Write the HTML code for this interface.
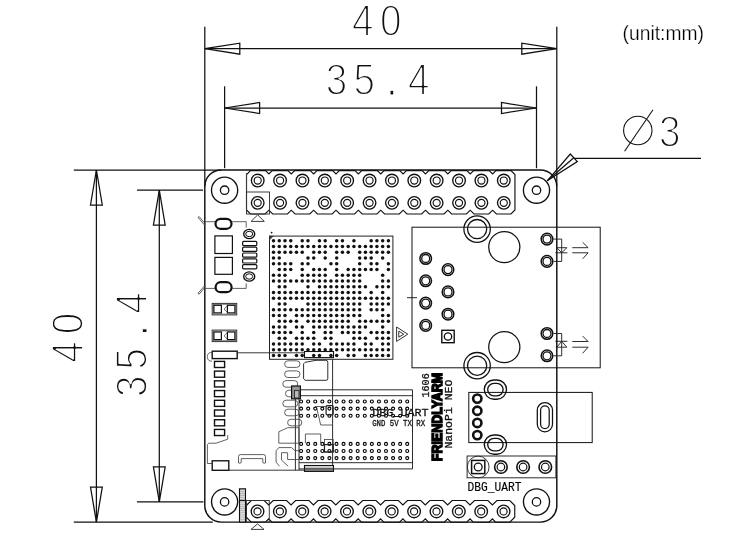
<!DOCTYPE html>
<html><head><meta charset="utf-8"><title>NanoPi NEO dimensions</title>
<style>
html,body{margin:0;padding:0;background:#fff;}
svg{display:block;filter:grayscale(1);}
text{font-family:"Liberation Sans",sans-serif;fill:#111;}
.dim{stroke:#fff;stroke-width:1.8px;stroke-linejoin:round;}
.dimdot{stroke:#fff;stroke-width:1.0px;}
.unit{fill:#000;stroke:#fff;stroke-width:0.25px;}
.mono{font-family:"Liberation Mono",monospace;fill:#111;stroke:#111;stroke-width:0.3px;}
.mono2{font-family:"Liberation Mono",monospace;fill:#000;stroke:#000;stroke-width:0.15px;}
.brand{font-weight:bold;fill:#000;stroke:#000;stroke-width:1.5px;}
</style></head><body>
<svg width="740" height="560" viewBox="0 0 740 560">
<rect x="0" y="0" width="740" height="560" fill="#fff"/>
<path d="M204.8,505.6 L204.8,186.5 A16.5,16.5 0 0 1 221.3,170.0 L540.3,170.0 A16.5,16.5 0 0 1 556.8,186.5 L556.8,505.6 A16.5,16.5 0 0 1 540.3,522.1 L221.3,522.1 A16.5,16.5 0 0 1 204.8,505.6" stroke="#111" stroke-width="1.45" fill="none" />
<circle cx="224.60" cy="190.20" r="13.10" stroke="#111" stroke-width="1.35" fill="none"/>
<circle cx="224.60" cy="190.20" r="4.20" stroke="#111" stroke-width="1.3" fill="none"/>
<circle cx="224.60" cy="501.90" r="13.10" stroke="#111" stroke-width="1.35" fill="none"/>
<circle cx="224.60" cy="501.90" r="4.20" stroke="#111" stroke-width="1.3" fill="none"/>
<circle cx="536.50" cy="190.20" r="13.10" stroke="#111" stroke-width="1.35" fill="none"/>
<circle cx="536.50" cy="190.20" r="4.20" stroke="#111" stroke-width="1.3" fill="none"/>
<circle cx="536.50" cy="501.90" r="13.10" stroke="#111" stroke-width="1.35" fill="none"/>
<circle cx="536.50" cy="501.90" r="4.20" stroke="#111" stroke-width="1.3" fill="none"/>
<line x1="204.80" y1="26.80" x2="204.80" y2="186.50" stroke="#111" stroke-width="1.25" />
<line x1="556.80" y1="26.80" x2="556.80" y2="186.50" stroke="#111" stroke-width="1.25" />
<line x1="204.80" y1="48.70" x2="556.80" y2="48.70" stroke="#111" stroke-width="1.25" />
<path d="M204.80,48.70 L239.80,43.20 L239.80,54.20 Z" stroke="#111" stroke-width="1.25" fill="none" stroke-linejoin="miter"/>
<path d="M556.80,48.70 L521.80,43.20 L521.80,54.20 Z" stroke="#111" stroke-width="1.25" fill="none" stroke-linejoin="miter"/>
<line x1="224.60" y1="86.30" x2="224.60" y2="168.20" stroke="#111" stroke-width="1.25" />
<line x1="536.50" y1="86.30" x2="536.50" y2="168.20" stroke="#111" stroke-width="1.25" />
<line x1="224.60" y1="108.00" x2="536.50" y2="108.00" stroke="#111" stroke-width="1.25" />
<path d="M224.60,108.00 L259.60,102.50 L259.60,113.50 Z" stroke="#111" stroke-width="1.25" fill="none" stroke-linejoin="miter"/>
<path d="M536.50,108.00 L501.50,102.50 L501.50,113.50 Z" stroke="#111" stroke-width="1.25" fill="none" stroke-linejoin="miter"/>
<line x1="73.80" y1="170.00" x2="221.30" y2="170.00" stroke="#111" stroke-width="1.25" />
<line x1="73.80" y1="522.10" x2="212.80" y2="522.10" stroke="#111" stroke-width="1.25" />
<line x1="96.40" y1="170.00" x2="96.40" y2="522.10" stroke="#111" stroke-width="1.25" />
<path d="M96.40,170.00 L90.50,205.00 L102.30,205.00 Z" stroke="#111" stroke-width="1.25" fill="none" stroke-linejoin="miter"/>
<path d="M96.40,522.10 L90.50,487.10 L102.30,487.10 Z" stroke="#111" stroke-width="1.25" fill="none" stroke-linejoin="miter"/>
<line x1="137.00" y1="190.20" x2="203.00" y2="190.20" stroke="#111" stroke-width="1.25" />
<line x1="137.00" y1="501.90" x2="203.50" y2="501.90" stroke="#111" stroke-width="1.25" />
<line x1="159.30" y1="190.20" x2="159.30" y2="501.90" stroke="#111" stroke-width="1.25" />
<path d="M159.30,190.20 L153.40,225.20 L165.20,225.20 Z" stroke="#111" stroke-width="1.25" fill="none" stroke-linejoin="miter"/>
<path d="M159.30,501.90 L153.40,466.90 L165.20,466.90 Z" stroke="#111" stroke-width="1.25" fill="none" stroke-linejoin="miter"/>
<path d="M547.20,180.80 L570.30,154.00 L577.30,161.60 Z" stroke="#111" stroke-width="1.25" fill="none" stroke-linejoin="miter"/>
<line x1="547.20" y1="180.80" x2="573.80" y2="157.80" stroke="#111" stroke-width="1.25" />
<line x1="573.80" y1="158.40" x2="701.00" y2="158.40" stroke="#111" stroke-width="1.25" />
<circle cx="637.80" cy="130.50" r="14.20" stroke="#111" stroke-width="1.1" fill="none"/>
<line x1="624.60" y1="151.30" x2="653.00" y2="109.70" stroke="#111" stroke-width="1.1" />
<text transform="translate(352.0,36.0) scale(0.86,1)" x="0.00 32.67" y="0" font-size="45.0" class="dim">40</text>
<text transform="translate(325.8,95.4) scale(0.86,1)" x="0.00 32.21 70.70 95.58" y="0" font-size="45.0" class="dim">35<tspan class="dimdot">.</tspan>4</text>
<text transform="translate(83.4,362.8) rotate(-90) scale(0.86,1)" x="0.00 33.26" y="0" font-size="45.0" class="dim">40</text>
<text transform="translate(146.6,397.0) rotate(-90) scale(0.86,1)" x="0.00 31.98 70.93 96.74" y="0" font-size="45.0" class="dim">35<tspan class="dimdot">.</tspan>4</text>
<text transform="translate(659.0999999999999,146.5) scale(0.86,1)" x="0.00" y="0" font-size="45.0" class="dim">3</text>
<text x="622.6" y="40.0" font-size="19.5" textLength="81.4" lengthAdjust="spacingAndGlyphs" class="unit">(unit:mm)</text>
<path d="M246.51,174.60 L250.51,170.60 L265.49,170.60 L268.88,174.00 L272.28,170.60 L287.86,170.60 L291.25,174.00 L294.65,170.60 L310.23,170.60 L313.62,174.00 L317.02,170.60 L332.60,170.60 L336.00,174.00 L339.39,170.60 L354.97,170.60 L358.37,174.00 L361.76,170.60 L377.34,170.60 L380.74,174.00 L384.13,170.60 L399.71,170.60 L403.11,174.00 L406.50,170.60 L422.08,170.60 L425.48,174.00 L428.88,170.60 L444.45,170.60 L447.85,174.00 L451.25,170.60 L466.82,170.60 L470.22,174.00 L473.62,170.60 L489.19,170.60 L492.59,174.00 L495.99,170.60 L510.95,170.60 L514.95,174.60 L514.95,210.00 L510.95,214.00 L496.39,214.00 L492.59,210.20 L488.79,214.00 L474.02,214.00 L470.22,210.20 L466.42,214.00 L451.65,214.00 L447.85,210.20 L444.05,214.00 L429.28,214.00 L425.48,210.20 L421.68,214.00 L406.91,214.00 L403.11,210.20 L399.31,214.00 L384.54,214.00 L380.74,210.20 L376.94,214.00 L362.17,214.00 L358.37,210.20 L354.56,214.00 L339.80,214.00 L336.00,210.20 L332.19,214.00 L317.43,214.00 L313.62,210.20 L309.82,214.00 L295.06,214.00 L291.25,210.20 L287.45,214.00 L272.69,214.00 L268.88,210.20 L265.08,214.00 L250.51,214.00 L246.51,210.00 Z" stroke="#111" stroke-width="1.15" fill="none" stroke-linejoin="miter"/>
<circle cx="257.70" cy="180.50" r="6.30" stroke="#111" stroke-width="1.35" fill="none"/>
<circle cx="257.70" cy="180.50" r="3.55" stroke="#111" stroke-width="1.15" fill="none"/>
<circle cx="280.07" cy="180.50" r="6.30" stroke="#111" stroke-width="1.35" fill="none"/>
<circle cx="280.07" cy="180.50" r="3.55" stroke="#111" stroke-width="1.15" fill="none"/>
<circle cx="302.44" cy="180.50" r="6.30" stroke="#111" stroke-width="1.35" fill="none"/>
<circle cx="302.44" cy="180.50" r="3.55" stroke="#111" stroke-width="1.15" fill="none"/>
<circle cx="324.81" cy="180.50" r="6.30" stroke="#111" stroke-width="1.35" fill="none"/>
<circle cx="324.81" cy="180.50" r="3.55" stroke="#111" stroke-width="1.15" fill="none"/>
<circle cx="347.18" cy="180.50" r="6.30" stroke="#111" stroke-width="1.35" fill="none"/>
<circle cx="347.18" cy="180.50" r="3.55" stroke="#111" stroke-width="1.15" fill="none"/>
<circle cx="369.55" cy="180.50" r="6.30" stroke="#111" stroke-width="1.35" fill="none"/>
<circle cx="369.55" cy="180.50" r="3.55" stroke="#111" stroke-width="1.15" fill="none"/>
<circle cx="391.92" cy="180.50" r="6.30" stroke="#111" stroke-width="1.35" fill="none"/>
<circle cx="391.92" cy="180.50" r="3.55" stroke="#111" stroke-width="1.15" fill="none"/>
<circle cx="414.29" cy="180.50" r="6.30" stroke="#111" stroke-width="1.35" fill="none"/>
<circle cx="414.29" cy="180.50" r="3.55" stroke="#111" stroke-width="1.15" fill="none"/>
<circle cx="436.66" cy="180.50" r="6.30" stroke="#111" stroke-width="1.35" fill="none"/>
<circle cx="436.66" cy="180.50" r="3.55" stroke="#111" stroke-width="1.15" fill="none"/>
<circle cx="459.03" cy="180.50" r="6.30" stroke="#111" stroke-width="1.35" fill="none"/>
<circle cx="459.03" cy="180.50" r="3.55" stroke="#111" stroke-width="1.15" fill="none"/>
<circle cx="481.40" cy="180.50" r="6.30" stroke="#111" stroke-width="1.35" fill="none"/>
<circle cx="481.40" cy="180.50" r="3.55" stroke="#111" stroke-width="1.15" fill="none"/>
<circle cx="503.77" cy="180.50" r="6.30" stroke="#111" stroke-width="1.35" fill="none"/>
<circle cx="503.77" cy="180.50" r="3.55" stroke="#111" stroke-width="1.15" fill="none"/>
<circle cx="257.70" cy="202.87" r="6.30" stroke="#111" stroke-width="1.35" fill="none"/>
<circle cx="257.70" cy="202.87" r="3.55" stroke="#111" stroke-width="1.15" fill="none"/>
<circle cx="280.07" cy="202.87" r="6.30" stroke="#111" stroke-width="1.35" fill="none"/>
<circle cx="280.07" cy="202.87" r="3.55" stroke="#111" stroke-width="1.15" fill="none"/>
<circle cx="302.44" cy="202.87" r="6.30" stroke="#111" stroke-width="1.35" fill="none"/>
<circle cx="302.44" cy="202.87" r="3.55" stroke="#111" stroke-width="1.15" fill="none"/>
<circle cx="324.81" cy="202.87" r="6.30" stroke="#111" stroke-width="1.35" fill="none"/>
<circle cx="324.81" cy="202.87" r="3.55" stroke="#111" stroke-width="1.15" fill="none"/>
<circle cx="347.18" cy="202.87" r="6.30" stroke="#111" stroke-width="1.35" fill="none"/>
<circle cx="347.18" cy="202.87" r="3.55" stroke="#111" stroke-width="1.15" fill="none"/>
<circle cx="369.55" cy="202.87" r="6.30" stroke="#111" stroke-width="1.35" fill="none"/>
<circle cx="369.55" cy="202.87" r="3.55" stroke="#111" stroke-width="1.15" fill="none"/>
<circle cx="391.92" cy="202.87" r="6.30" stroke="#111" stroke-width="1.35" fill="none"/>
<circle cx="391.92" cy="202.87" r="3.55" stroke="#111" stroke-width="1.15" fill="none"/>
<circle cx="414.29" cy="202.87" r="6.30" stroke="#111" stroke-width="1.35" fill="none"/>
<circle cx="414.29" cy="202.87" r="3.55" stroke="#111" stroke-width="1.15" fill="none"/>
<circle cx="436.66" cy="202.87" r="6.30" stroke="#111" stroke-width="1.35" fill="none"/>
<circle cx="436.66" cy="202.87" r="3.55" stroke="#111" stroke-width="1.15" fill="none"/>
<circle cx="459.03" cy="202.87" r="6.30" stroke="#111" stroke-width="1.35" fill="none"/>
<circle cx="459.03" cy="202.87" r="3.55" stroke="#111" stroke-width="1.15" fill="none"/>
<circle cx="481.40" cy="202.87" r="6.30" stroke="#111" stroke-width="1.35" fill="none"/>
<circle cx="481.40" cy="202.87" r="3.55" stroke="#111" stroke-width="1.15" fill="none"/>
<circle cx="503.77" cy="202.87" r="6.30" stroke="#111" stroke-width="1.35" fill="none"/>
<circle cx="503.77" cy="202.87" r="3.55" stroke="#111" stroke-width="1.15" fill="none"/>
<line x1="246.51" y1="173.00" x2="246.51" y2="211.00" stroke="#444" stroke-width="0.85" />
<rect x="246.51" y="192.00" width="22.97" height="22.00" rx="0" stroke="#333" stroke-width="0.95" fill="none"/>
<path d="M257.70,214.90 L251.10,221.40 L264.30,221.40 Z" stroke="#333" stroke-width="0.95" fill="none" stroke-linejoin="miter"/>
<path d="M246.31,505.50 L251.31,500.50 L264.19,500.50 L268.69,505.00 L273.19,500.50 L286.56,500.50 L291.06,505.00 L295.56,500.50 L308.93,500.50 L313.43,505.00 L317.93,500.50 L331.30,500.50 L335.80,505.00 L340.30,500.50 L353.67,500.50 L358.17,505.00 L362.67,500.50 L376.03,500.50 L380.53,505.00 L385.03,500.50 L398.40,500.50 L402.90,505.00 L407.40,500.50 L420.77,500.50 L425.27,505.00 L429.77,500.50 L443.14,500.50 L447.64,505.00 L452.14,500.50 L465.51,500.50 L470.01,505.00 L474.51,500.50 L487.88,500.50 L492.38,505.00 L496.88,500.50 L509.75,500.50 L514.75,505.50 L514.75,517.20 L509.75,522.20 L495.69,522.20 L492.38,518.90 L489.08,522.20 L473.31,522.20 L470.01,518.90 L466.71,522.20 L450.94,522.20 L447.64,518.90 L444.34,522.20 L428.57,522.20 L425.27,518.90 L421.97,522.20 L406.20,522.20 L402.90,518.90 L399.60,522.20 L383.83,522.20 L380.53,518.90 L377.23,522.20 L361.47,522.20 L358.17,518.90 L354.87,522.20 L339.10,522.20 L335.80,518.90 L332.50,522.20 L316.73,522.20 L313.43,518.90 L310.12,522.20 L294.36,522.20 L291.06,518.90 L287.75,522.20 L271.99,522.20 L268.69,518.90 L265.38,522.20 L251.31,522.20 L246.31,517.20 Z" stroke="#111" stroke-width="1.15" fill="none" stroke-linejoin="miter"/>
<circle cx="257.50" cy="511.40" r="6.30" stroke="#111" stroke-width="1.35" fill="none"/>
<circle cx="257.50" cy="511.40" r="3.55" stroke="#111" stroke-width="1.15" fill="none"/>
<circle cx="279.87" cy="511.40" r="6.30" stroke="#111" stroke-width="1.35" fill="none"/>
<circle cx="279.87" cy="511.40" r="3.55" stroke="#111" stroke-width="1.15" fill="none"/>
<circle cx="302.24" cy="511.40" r="6.30" stroke="#111" stroke-width="1.35" fill="none"/>
<circle cx="302.24" cy="511.40" r="3.55" stroke="#111" stroke-width="1.15" fill="none"/>
<circle cx="324.61" cy="511.40" r="6.30" stroke="#111" stroke-width="1.35" fill="none"/>
<circle cx="324.61" cy="511.40" r="3.55" stroke="#111" stroke-width="1.15" fill="none"/>
<circle cx="346.98" cy="511.40" r="6.30" stroke="#111" stroke-width="1.35" fill="none"/>
<circle cx="346.98" cy="511.40" r="3.55" stroke="#111" stroke-width="1.15" fill="none"/>
<circle cx="369.35" cy="511.40" r="6.30" stroke="#111" stroke-width="1.35" fill="none"/>
<circle cx="369.35" cy="511.40" r="3.55" stroke="#111" stroke-width="1.15" fill="none"/>
<circle cx="391.72" cy="511.40" r="6.30" stroke="#111" stroke-width="1.35" fill="none"/>
<circle cx="391.72" cy="511.40" r="3.55" stroke="#111" stroke-width="1.15" fill="none"/>
<circle cx="414.09" cy="511.40" r="6.30" stroke="#111" stroke-width="1.35" fill="none"/>
<circle cx="414.09" cy="511.40" r="3.55" stroke="#111" stroke-width="1.15" fill="none"/>
<circle cx="436.46" cy="511.40" r="6.30" stroke="#111" stroke-width="1.35" fill="none"/>
<circle cx="436.46" cy="511.40" r="3.55" stroke="#111" stroke-width="1.15" fill="none"/>
<circle cx="458.83" cy="511.40" r="6.30" stroke="#111" stroke-width="1.35" fill="none"/>
<circle cx="458.83" cy="511.40" r="3.55" stroke="#111" stroke-width="1.15" fill="none"/>
<circle cx="481.20" cy="511.40" r="6.30" stroke="#111" stroke-width="1.35" fill="none"/>
<circle cx="481.20" cy="511.40" r="3.55" stroke="#111" stroke-width="1.15" fill="none"/>
<circle cx="503.57" cy="511.40" r="6.30" stroke="#111" stroke-width="1.35" fill="none"/>
<circle cx="503.57" cy="511.40" r="3.55" stroke="#111" stroke-width="1.15" fill="none"/>
<line x1="246.31" y1="503.00" x2="246.31" y2="519.00" stroke="#444" stroke-width="0.85" />
<rect x="246.31" y="500.50" width="22.97" height="21.70" rx="0" stroke="#333" stroke-width="0.95" fill="none"/>
<path d="M257.50,523.90 L251.00,529.40 L264.00,529.40 Z" stroke="#333" stroke-width="0.95" fill="none" stroke-linejoin="miter"/>
<rect x="269.50" y="236.10" width="123.40" height="123.20" rx="0" stroke="#222" stroke-width="1.0" fill="none"/>
<circle cx="271.6" cy="232.6" r="0.9" fill="#111"/>
<path d="M269.50,236.10 L273.30,236.10 L269.50,239.90 Z" stroke="#333" stroke-width="0.5" fill="#333" stroke-linejoin="miter"/>
<circle cx="273.50" cy="240.70" r="1.75" fill="#111"/>
<circle cx="279.25" cy="240.70" r="1.75" fill="#111"/>
<circle cx="284.99" cy="240.70" r="1.75" fill="#111"/>
<circle cx="290.74" cy="240.70" r="1.75" fill="#111"/>
<circle cx="302.23" cy="240.70" r="1.75" fill="#111"/>
<circle cx="307.97" cy="240.70" r="1.75" fill="#111"/>
<circle cx="319.46" cy="240.70" r="1.75" fill="#111"/>
<circle cx="325.20" cy="240.70" r="1.75" fill="#111"/>
<circle cx="336.69" cy="240.70" r="1.75" fill="#111"/>
<circle cx="342.44" cy="240.70" r="1.75" fill="#111"/>
<circle cx="353.93" cy="240.70" r="1.75" fill="#111"/>
<circle cx="371.17" cy="240.70" r="1.75" fill="#111"/>
<circle cx="376.91" cy="240.70" r="1.75" fill="#111"/>
<circle cx="382.65" cy="240.70" r="1.75" fill="#111"/>
<circle cx="388.40" cy="240.70" r="1.75" fill="#111"/>
<circle cx="273.50" cy="246.44" r="1.75" fill="#111"/>
<circle cx="279.25" cy="246.44" r="1.75" fill="#111"/>
<circle cx="284.99" cy="246.44" r="1.75" fill="#111"/>
<circle cx="290.74" cy="246.44" r="1.75" fill="#111"/>
<circle cx="296.48" cy="246.44" r="1.75" fill="#111"/>
<circle cx="302.23" cy="246.44" r="1.75" fill="#111"/>
<circle cx="307.97" cy="246.44" r="1.75" fill="#111"/>
<circle cx="313.72" cy="246.44" r="1.75" fill="#111"/>
<circle cx="319.46" cy="246.44" r="1.75" fill="#111"/>
<circle cx="325.20" cy="246.44" r="1.75" fill="#111"/>
<circle cx="330.95" cy="246.44" r="1.75" fill="#111"/>
<circle cx="336.69" cy="246.44" r="1.75" fill="#111"/>
<circle cx="342.44" cy="246.44" r="1.75" fill="#111"/>
<circle cx="348.19" cy="246.44" r="1.75" fill="#111"/>
<circle cx="353.93" cy="246.44" r="1.75" fill="#111"/>
<circle cx="359.68" cy="246.44" r="1.75" fill="#111"/>
<circle cx="365.42" cy="246.44" r="1.75" fill="#111"/>
<circle cx="371.17" cy="246.44" r="1.75" fill="#111"/>
<circle cx="376.91" cy="246.44" r="1.75" fill="#111"/>
<circle cx="382.65" cy="246.44" r="1.75" fill="#111"/>
<circle cx="388.40" cy="246.44" r="1.75" fill="#111"/>
<circle cx="273.50" cy="252.19" r="1.75" fill="#111"/>
<circle cx="279.25" cy="252.19" r="1.75" fill="#111"/>
<circle cx="284.99" cy="252.19" r="1.75" fill="#111"/>
<circle cx="290.74" cy="252.19" r="1.75" fill="#111"/>
<circle cx="296.48" cy="252.19" r="1.75" fill="#111"/>
<circle cx="302.23" cy="252.19" r="1.75" fill="#111"/>
<circle cx="313.72" cy="252.19" r="1.75" fill="#111"/>
<circle cx="319.46" cy="252.19" r="1.75" fill="#111"/>
<circle cx="325.20" cy="252.19" r="1.75" fill="#111"/>
<circle cx="336.69" cy="252.19" r="1.75" fill="#111"/>
<circle cx="342.44" cy="252.19" r="1.75" fill="#111"/>
<circle cx="348.19" cy="252.19" r="1.75" fill="#111"/>
<circle cx="359.68" cy="252.19" r="1.75" fill="#111"/>
<circle cx="365.42" cy="252.19" r="1.75" fill="#111"/>
<circle cx="371.17" cy="252.19" r="1.75" fill="#111"/>
<circle cx="376.91" cy="252.19" r="1.75" fill="#111"/>
<circle cx="382.65" cy="252.19" r="1.75" fill="#111"/>
<circle cx="388.40" cy="252.19" r="1.75" fill="#111"/>
<circle cx="273.50" cy="257.94" r="1.75" fill="#111"/>
<circle cx="279.25" cy="257.94" r="1.75" fill="#111"/>
<circle cx="307.97" cy="257.94" r="1.75" fill="#111"/>
<circle cx="313.72" cy="257.94" r="1.75" fill="#111"/>
<circle cx="325.20" cy="257.94" r="1.75" fill="#111"/>
<circle cx="336.69" cy="257.94" r="1.75" fill="#111"/>
<circle cx="359.68" cy="257.94" r="1.75" fill="#111"/>
<circle cx="365.42" cy="257.94" r="1.75" fill="#111"/>
<circle cx="371.17" cy="257.94" r="1.75" fill="#111"/>
<circle cx="382.65" cy="257.94" r="1.75" fill="#111"/>
<circle cx="273.50" cy="263.68" r="1.75" fill="#111"/>
<circle cx="279.25" cy="263.68" r="1.75" fill="#111"/>
<circle cx="284.99" cy="263.68" r="1.75" fill="#111"/>
<circle cx="290.74" cy="263.68" r="1.75" fill="#111"/>
<circle cx="302.23" cy="263.68" r="1.75" fill="#111"/>
<circle cx="307.97" cy="263.68" r="1.75" fill="#111"/>
<circle cx="330.95" cy="263.68" r="1.75" fill="#111"/>
<circle cx="336.69" cy="263.68" r="1.75" fill="#111"/>
<circle cx="359.68" cy="263.68" r="1.75" fill="#111"/>
<circle cx="371.17" cy="263.68" r="1.75" fill="#111"/>
<circle cx="376.91" cy="263.68" r="1.75" fill="#111"/>
<circle cx="388.40" cy="263.68" r="1.75" fill="#111"/>
<circle cx="279.25" cy="269.43" r="1.75" fill="#111"/>
<circle cx="284.99" cy="269.43" r="1.75" fill="#111"/>
<circle cx="290.74" cy="269.43" r="1.75" fill="#111"/>
<circle cx="302.23" cy="269.43" r="1.75" fill="#111"/>
<circle cx="313.72" cy="269.43" r="1.75" fill="#111"/>
<circle cx="319.46" cy="269.43" r="1.75" fill="#111"/>
<circle cx="325.20" cy="269.43" r="1.75" fill="#111"/>
<circle cx="336.69" cy="269.43" r="1.75" fill="#111"/>
<circle cx="348.19" cy="269.43" r="1.75" fill="#111"/>
<circle cx="353.93" cy="269.43" r="1.75" fill="#111"/>
<circle cx="359.68" cy="269.43" r="1.75" fill="#111"/>
<circle cx="365.42" cy="269.43" r="1.75" fill="#111"/>
<circle cx="371.17" cy="269.43" r="1.75" fill="#111"/>
<circle cx="376.91" cy="269.43" r="1.75" fill="#111"/>
<circle cx="388.40" cy="269.43" r="1.75" fill="#111"/>
<circle cx="273.50" cy="275.17" r="1.75" fill="#111"/>
<circle cx="279.25" cy="275.17" r="1.75" fill="#111"/>
<circle cx="284.99" cy="275.17" r="1.75" fill="#111"/>
<circle cx="302.23" cy="275.17" r="1.75" fill="#111"/>
<circle cx="307.97" cy="275.17" r="1.75" fill="#111"/>
<circle cx="313.72" cy="275.17" r="1.75" fill="#111"/>
<circle cx="319.46" cy="275.17" r="1.75" fill="#111"/>
<circle cx="325.20" cy="275.17" r="1.75" fill="#111"/>
<circle cx="336.69" cy="275.17" r="1.75" fill="#111"/>
<circle cx="342.44" cy="275.17" r="1.75" fill="#111"/>
<circle cx="348.19" cy="275.17" r="1.75" fill="#111"/>
<circle cx="353.93" cy="275.17" r="1.75" fill="#111"/>
<circle cx="359.68" cy="275.17" r="1.75" fill="#111"/>
<circle cx="382.65" cy="275.17" r="1.75" fill="#111"/>
<circle cx="273.50" cy="280.91" r="1.75" fill="#111"/>
<circle cx="279.25" cy="280.91" r="1.75" fill="#111"/>
<circle cx="284.99" cy="280.91" r="1.75" fill="#111"/>
<circle cx="290.74" cy="280.91" r="1.75" fill="#111"/>
<circle cx="296.48" cy="280.91" r="1.75" fill="#111"/>
<circle cx="302.23" cy="280.91" r="1.75" fill="#111"/>
<circle cx="307.97" cy="280.91" r="1.75" fill="#111"/>
<circle cx="313.72" cy="280.91" r="1.75" fill="#111"/>
<circle cx="319.46" cy="280.91" r="1.75" fill="#111"/>
<circle cx="325.20" cy="280.91" r="1.75" fill="#111"/>
<circle cx="330.95" cy="280.91" r="1.75" fill="#111"/>
<circle cx="336.69" cy="280.91" r="1.75" fill="#111"/>
<circle cx="342.44" cy="280.91" r="1.75" fill="#111"/>
<circle cx="348.19" cy="280.91" r="1.75" fill="#111"/>
<circle cx="353.93" cy="280.91" r="1.75" fill="#111"/>
<circle cx="359.68" cy="280.91" r="1.75" fill="#111"/>
<circle cx="382.65" cy="280.91" r="1.75" fill="#111"/>
<circle cx="388.40" cy="280.91" r="1.75" fill="#111"/>
<circle cx="279.25" cy="286.66" r="1.75" fill="#111"/>
<circle cx="284.99" cy="286.66" r="1.75" fill="#111"/>
<circle cx="307.97" cy="286.66" r="1.75" fill="#111"/>
<circle cx="319.46" cy="286.66" r="1.75" fill="#111"/>
<circle cx="325.20" cy="286.66" r="1.75" fill="#111"/>
<circle cx="330.95" cy="286.66" r="1.75" fill="#111"/>
<circle cx="336.69" cy="286.66" r="1.75" fill="#111"/>
<circle cx="342.44" cy="286.66" r="1.75" fill="#111"/>
<circle cx="348.19" cy="286.66" r="1.75" fill="#111"/>
<circle cx="353.93" cy="286.66" r="1.75" fill="#111"/>
<circle cx="359.68" cy="286.66" r="1.75" fill="#111"/>
<circle cx="365.42" cy="286.66" r="1.75" fill="#111"/>
<circle cx="376.91" cy="286.66" r="1.75" fill="#111"/>
<circle cx="382.65" cy="286.66" r="1.75" fill="#111"/>
<circle cx="388.40" cy="286.66" r="1.75" fill="#111"/>
<circle cx="273.50" cy="292.40" r="1.75" fill="#111"/>
<circle cx="279.25" cy="292.40" r="1.75" fill="#111"/>
<circle cx="284.99" cy="292.40" r="1.75" fill="#111"/>
<circle cx="290.74" cy="292.40" r="1.75" fill="#111"/>
<circle cx="296.48" cy="292.40" r="1.75" fill="#111"/>
<circle cx="302.23" cy="292.40" r="1.75" fill="#111"/>
<circle cx="307.97" cy="292.40" r="1.75" fill="#111"/>
<circle cx="313.72" cy="292.40" r="1.75" fill="#111"/>
<circle cx="319.46" cy="292.40" r="1.75" fill="#111"/>
<circle cx="325.20" cy="292.40" r="1.75" fill="#111"/>
<circle cx="330.95" cy="292.40" r="1.75" fill="#111"/>
<circle cx="336.69" cy="292.40" r="1.75" fill="#111"/>
<circle cx="342.44" cy="292.40" r="1.75" fill="#111"/>
<circle cx="348.19" cy="292.40" r="1.75" fill="#111"/>
<circle cx="353.93" cy="292.40" r="1.75" fill="#111"/>
<circle cx="359.68" cy="292.40" r="1.75" fill="#111"/>
<circle cx="371.17" cy="292.40" r="1.75" fill="#111"/>
<circle cx="382.65" cy="292.40" r="1.75" fill="#111"/>
<circle cx="273.50" cy="298.15" r="1.75" fill="#111"/>
<circle cx="279.25" cy="298.15" r="1.75" fill="#111"/>
<circle cx="284.99" cy="298.15" r="1.75" fill="#111"/>
<circle cx="290.74" cy="298.15" r="1.75" fill="#111"/>
<circle cx="296.48" cy="298.15" r="1.75" fill="#111"/>
<circle cx="302.23" cy="298.15" r="1.75" fill="#111"/>
<circle cx="307.97" cy="298.15" r="1.75" fill="#111"/>
<circle cx="313.72" cy="298.15" r="1.75" fill="#111"/>
<circle cx="319.46" cy="298.15" r="1.75" fill="#111"/>
<circle cx="325.20" cy="298.15" r="1.75" fill="#111"/>
<circle cx="330.95" cy="298.15" r="1.75" fill="#111"/>
<circle cx="336.69" cy="298.15" r="1.75" fill="#111"/>
<circle cx="342.44" cy="298.15" r="1.75" fill="#111"/>
<circle cx="348.19" cy="298.15" r="1.75" fill="#111"/>
<circle cx="353.93" cy="298.15" r="1.75" fill="#111"/>
<circle cx="359.68" cy="298.15" r="1.75" fill="#111"/>
<circle cx="365.42" cy="298.15" r="1.75" fill="#111"/>
<circle cx="371.17" cy="298.15" r="1.75" fill="#111"/>
<circle cx="376.91" cy="298.15" r="1.75" fill="#111"/>
<circle cx="382.65" cy="298.15" r="1.75" fill="#111"/>
<circle cx="388.40" cy="298.15" r="1.75" fill="#111"/>
<circle cx="279.25" cy="303.89" r="1.75" fill="#111"/>
<circle cx="284.99" cy="303.89" r="1.75" fill="#111"/>
<circle cx="307.97" cy="303.89" r="1.75" fill="#111"/>
<circle cx="313.72" cy="303.89" r="1.75" fill="#111"/>
<circle cx="319.46" cy="303.89" r="1.75" fill="#111"/>
<circle cx="325.20" cy="303.89" r="1.75" fill="#111"/>
<circle cx="330.95" cy="303.89" r="1.75" fill="#111"/>
<circle cx="336.69" cy="303.89" r="1.75" fill="#111"/>
<circle cx="342.44" cy="303.89" r="1.75" fill="#111"/>
<circle cx="348.19" cy="303.89" r="1.75" fill="#111"/>
<circle cx="353.93" cy="303.89" r="1.75" fill="#111"/>
<circle cx="359.68" cy="303.89" r="1.75" fill="#111"/>
<circle cx="371.17" cy="303.89" r="1.75" fill="#111"/>
<circle cx="376.91" cy="303.89" r="1.75" fill="#111"/>
<circle cx="382.65" cy="303.89" r="1.75" fill="#111"/>
<circle cx="388.40" cy="303.89" r="1.75" fill="#111"/>
<circle cx="273.50" cy="309.64" r="1.75" fill="#111"/>
<circle cx="279.25" cy="309.64" r="1.75" fill="#111"/>
<circle cx="284.99" cy="309.64" r="1.75" fill="#111"/>
<circle cx="290.74" cy="309.64" r="1.75" fill="#111"/>
<circle cx="296.48" cy="309.64" r="1.75" fill="#111"/>
<circle cx="302.23" cy="309.64" r="1.75" fill="#111"/>
<circle cx="307.97" cy="309.64" r="1.75" fill="#111"/>
<circle cx="313.72" cy="309.64" r="1.75" fill="#111"/>
<circle cx="319.46" cy="309.64" r="1.75" fill="#111"/>
<circle cx="325.20" cy="309.64" r="1.75" fill="#111"/>
<circle cx="330.95" cy="309.64" r="1.75" fill="#111"/>
<circle cx="336.69" cy="309.64" r="1.75" fill="#111"/>
<circle cx="342.44" cy="309.64" r="1.75" fill="#111"/>
<circle cx="348.19" cy="309.64" r="1.75" fill="#111"/>
<circle cx="353.93" cy="309.64" r="1.75" fill="#111"/>
<circle cx="359.68" cy="309.64" r="1.75" fill="#111"/>
<circle cx="371.17" cy="309.64" r="1.75" fill="#111"/>
<circle cx="376.91" cy="309.64" r="1.75" fill="#111"/>
<circle cx="382.65" cy="309.64" r="1.75" fill="#111"/>
<circle cx="273.50" cy="315.38" r="1.75" fill="#111"/>
<circle cx="279.25" cy="315.38" r="1.75" fill="#111"/>
<circle cx="284.99" cy="315.38" r="1.75" fill="#111"/>
<circle cx="296.48" cy="315.38" r="1.75" fill="#111"/>
<circle cx="302.23" cy="315.38" r="1.75" fill="#111"/>
<circle cx="307.97" cy="315.38" r="1.75" fill="#111"/>
<circle cx="313.72" cy="315.38" r="1.75" fill="#111"/>
<circle cx="319.46" cy="315.38" r="1.75" fill="#111"/>
<circle cx="325.20" cy="315.38" r="1.75" fill="#111"/>
<circle cx="330.95" cy="315.38" r="1.75" fill="#111"/>
<circle cx="336.69" cy="315.38" r="1.75" fill="#111"/>
<circle cx="342.44" cy="315.38" r="1.75" fill="#111"/>
<circle cx="348.19" cy="315.38" r="1.75" fill="#111"/>
<circle cx="353.93" cy="315.38" r="1.75" fill="#111"/>
<circle cx="359.68" cy="315.38" r="1.75" fill="#111"/>
<circle cx="382.65" cy="315.38" r="1.75" fill="#111"/>
<circle cx="388.40" cy="315.38" r="1.75" fill="#111"/>
<circle cx="279.25" cy="321.13" r="1.75" fill="#111"/>
<circle cx="284.99" cy="321.13" r="1.75" fill="#111"/>
<circle cx="290.74" cy="321.13" r="1.75" fill="#111"/>
<circle cx="296.48" cy="321.13" r="1.75" fill="#111"/>
<circle cx="307.97" cy="321.13" r="1.75" fill="#111"/>
<circle cx="313.72" cy="321.13" r="1.75" fill="#111"/>
<circle cx="319.46" cy="321.13" r="1.75" fill="#111"/>
<circle cx="325.20" cy="321.13" r="1.75" fill="#111"/>
<circle cx="330.95" cy="321.13" r="1.75" fill="#111"/>
<circle cx="336.69" cy="321.13" r="1.75" fill="#111"/>
<circle cx="342.44" cy="321.13" r="1.75" fill="#111"/>
<circle cx="348.19" cy="321.13" r="1.75" fill="#111"/>
<circle cx="359.68" cy="321.13" r="1.75" fill="#111"/>
<circle cx="365.42" cy="321.13" r="1.75" fill="#111"/>
<circle cx="371.17" cy="321.13" r="1.75" fill="#111"/>
<circle cx="376.91" cy="321.13" r="1.75" fill="#111"/>
<circle cx="382.65" cy="321.13" r="1.75" fill="#111"/>
<circle cx="388.40" cy="321.13" r="1.75" fill="#111"/>
<circle cx="273.50" cy="326.88" r="1.75" fill="#111"/>
<circle cx="279.25" cy="326.88" r="1.75" fill="#111"/>
<circle cx="284.99" cy="326.88" r="1.75" fill="#111"/>
<circle cx="296.48" cy="326.88" r="1.75" fill="#111"/>
<circle cx="302.23" cy="326.88" r="1.75" fill="#111"/>
<circle cx="313.72" cy="326.88" r="1.75" fill="#111"/>
<circle cx="319.46" cy="326.88" r="1.75" fill="#111"/>
<circle cx="325.20" cy="326.88" r="1.75" fill="#111"/>
<circle cx="330.95" cy="326.88" r="1.75" fill="#111"/>
<circle cx="336.69" cy="326.88" r="1.75" fill="#111"/>
<circle cx="342.44" cy="326.88" r="1.75" fill="#111"/>
<circle cx="348.19" cy="326.88" r="1.75" fill="#111"/>
<circle cx="353.93" cy="326.88" r="1.75" fill="#111"/>
<circle cx="359.68" cy="326.88" r="1.75" fill="#111"/>
<circle cx="365.42" cy="326.88" r="1.75" fill="#111"/>
<circle cx="382.65" cy="326.88" r="1.75" fill="#111"/>
<circle cx="273.50" cy="332.62" r="1.75" fill="#111"/>
<circle cx="279.25" cy="332.62" r="1.75" fill="#111"/>
<circle cx="284.99" cy="332.62" r="1.75" fill="#111"/>
<circle cx="290.74" cy="332.62" r="1.75" fill="#111"/>
<circle cx="302.23" cy="332.62" r="1.75" fill="#111"/>
<circle cx="313.72" cy="332.62" r="1.75" fill="#111"/>
<circle cx="325.20" cy="332.62" r="1.75" fill="#111"/>
<circle cx="330.95" cy="332.62" r="1.75" fill="#111"/>
<circle cx="342.44" cy="332.62" r="1.75" fill="#111"/>
<circle cx="348.19" cy="332.62" r="1.75" fill="#111"/>
<circle cx="353.93" cy="332.62" r="1.75" fill="#111"/>
<circle cx="359.68" cy="332.62" r="1.75" fill="#111"/>
<circle cx="371.17" cy="332.62" r="1.75" fill="#111"/>
<circle cx="376.91" cy="332.62" r="1.75" fill="#111"/>
<circle cx="382.65" cy="332.62" r="1.75" fill="#111"/>
<circle cx="388.40" cy="332.62" r="1.75" fill="#111"/>
<circle cx="279.25" cy="338.37" r="1.75" fill="#111"/>
<circle cx="284.99" cy="338.37" r="1.75" fill="#111"/>
<circle cx="296.48" cy="338.37" r="1.75" fill="#111"/>
<circle cx="302.23" cy="338.37" r="1.75" fill="#111"/>
<circle cx="307.97" cy="338.37" r="1.75" fill="#111"/>
<circle cx="313.72" cy="338.37" r="1.75" fill="#111"/>
<circle cx="325.20" cy="338.37" r="1.75" fill="#111"/>
<circle cx="330.95" cy="338.37" r="1.75" fill="#111"/>
<circle cx="353.93" cy="338.37" r="1.75" fill="#111"/>
<circle cx="359.68" cy="338.37" r="1.75" fill="#111"/>
<circle cx="365.42" cy="338.37" r="1.75" fill="#111"/>
<circle cx="376.91" cy="338.37" r="1.75" fill="#111"/>
<circle cx="382.65" cy="338.37" r="1.75" fill="#111"/>
<circle cx="388.40" cy="338.37" r="1.75" fill="#111"/>
<circle cx="273.50" cy="344.11" r="1.75" fill="#111"/>
<circle cx="279.25" cy="344.11" r="1.75" fill="#111"/>
<circle cx="284.99" cy="344.11" r="1.75" fill="#111"/>
<circle cx="290.74" cy="344.11" r="1.75" fill="#111"/>
<circle cx="296.48" cy="344.11" r="1.75" fill="#111"/>
<circle cx="302.23" cy="344.11" r="1.75" fill="#111"/>
<circle cx="313.72" cy="344.11" r="1.75" fill="#111"/>
<circle cx="319.46" cy="344.11" r="1.75" fill="#111"/>
<circle cx="330.95" cy="344.11" r="1.75" fill="#111"/>
<circle cx="336.69" cy="344.11" r="1.75" fill="#111"/>
<circle cx="342.44" cy="344.11" r="1.75" fill="#111"/>
<circle cx="348.19" cy="344.11" r="1.75" fill="#111"/>
<circle cx="353.93" cy="344.11" r="1.75" fill="#111"/>
<circle cx="365.42" cy="344.11" r="1.75" fill="#111"/>
<circle cx="371.17" cy="344.11" r="1.75" fill="#111"/>
<circle cx="382.65" cy="344.11" r="1.75" fill="#111"/>
<circle cx="388.40" cy="344.11" r="1.75" fill="#111"/>
<circle cx="273.50" cy="349.86" r="1.75" fill="#111"/>
<circle cx="279.25" cy="349.86" r="1.75" fill="#111"/>
<circle cx="284.99" cy="349.86" r="1.75" fill="#111"/>
<circle cx="290.74" cy="349.86" r="1.75" fill="#111"/>
<circle cx="296.48" cy="349.86" r="1.75" fill="#111"/>
<circle cx="302.23" cy="349.86" r="1.75" fill="#111"/>
<circle cx="307.97" cy="349.86" r="1.75" fill="#111"/>
<circle cx="313.72" cy="349.86" r="1.75" fill="#111"/>
<circle cx="319.46" cy="349.86" r="1.75" fill="#111"/>
<circle cx="325.20" cy="349.86" r="1.75" fill="#111"/>
<circle cx="330.95" cy="349.86" r="1.75" fill="#111"/>
<circle cx="336.69" cy="349.86" r="1.75" fill="#111"/>
<circle cx="342.44" cy="349.86" r="1.75" fill="#111"/>
<circle cx="348.19" cy="349.86" r="1.75" fill="#111"/>
<circle cx="353.93" cy="349.86" r="1.75" fill="#111"/>
<circle cx="359.68" cy="349.86" r="1.75" fill="#111"/>
<circle cx="365.42" cy="349.86" r="1.75" fill="#111"/>
<circle cx="371.17" cy="349.86" r="1.75" fill="#111"/>
<circle cx="376.91" cy="349.86" r="1.75" fill="#111"/>
<circle cx="382.65" cy="349.86" r="1.75" fill="#111"/>
<circle cx="388.40" cy="349.86" r="1.75" fill="#111"/>
<circle cx="273.50" cy="355.60" r="1.75" fill="#111"/>
<circle cx="279.25" cy="355.60" r="1.75" fill="#111"/>
<circle cx="284.99" cy="355.60" r="1.75" fill="#111"/>
<circle cx="296.48" cy="355.60" r="1.75" fill="#111"/>
<circle cx="302.23" cy="355.60" r="1.75" fill="#111"/>
<circle cx="313.72" cy="355.60" r="1.75" fill="#111"/>
<circle cx="319.46" cy="355.60" r="1.75" fill="#111"/>
<circle cx="330.95" cy="355.60" r="1.75" fill="#111"/>
<circle cx="336.69" cy="355.60" r="1.75" fill="#111"/>
<circle cx="348.19" cy="355.60" r="1.75" fill="#111"/>
<circle cx="353.93" cy="355.60" r="1.75" fill="#111"/>
<circle cx="365.42" cy="355.60" r="1.75" fill="#111"/>
<circle cx="371.17" cy="355.60" r="1.75" fill="#111"/>
<circle cx="376.91" cy="355.60" r="1.75" fill="#111"/>
<circle cx="382.65" cy="355.60" r="1.75" fill="#111"/>
<circle cx="388.40" cy="355.60" r="1.75" fill="#111"/>
<path d="M204.8,221.7 L215,221.7 M232.2,221.7 L246.2,221.7 L246.2,227.5" stroke="#444" stroke-width="0.85" fill="none" />
<path d="M204.8,288.4 L215,288.4 M232.2,288.4 L246.2,288.4 L246.2,283.3" stroke="#444" stroke-width="0.85" fill="none" />
<path d="M198.00,217.40 L199.20,216.60 L204.80,223.40 L204.80,225.40 Z" stroke="#444" stroke-width="0.85" fill="none" stroke-linejoin="miter"/>
<path d="M198.00,293.40 L199.20,294.20 L204.80,287.40 L204.80,285.40 Z" stroke="#444" stroke-width="0.85" fill="none" stroke-linejoin="miter"/>
<rect x="215.50" y="218.80" width="16.00" height="10.00" rx="5.0" stroke="#111" stroke-width="2.2" fill="none"/>
<rect x="215.60" y="282.20" width="16.00" height="10.00" rx="5.0" stroke="#111" stroke-width="2.2" fill="none"/>
<ellipse cx="249.2" cy="234.0" rx="5.5" ry="4.6" stroke="#111" stroke-width="1.4" fill="none"/>
<ellipse cx="249.2" cy="234.0" rx="3.5" ry="2.7" stroke="#111" stroke-width="1.0" fill="none"/>
<ellipse cx="249.2" cy="276.5" rx="5.5" ry="4.6" stroke="#111" stroke-width="1.4" fill="none"/>
<ellipse cx="249.2" cy="276.5" rx="3.5" ry="2.7" stroke="#111" stroke-width="1.0" fill="none"/>
<rect x="214.90" y="235.90" width="17.50" height="17.60" rx="0" stroke="#111" stroke-width="1.2" fill="none"/>
<rect x="214.90" y="257.40" width="17.50" height="16.90" rx="0" stroke="#111" stroke-width="1.2" fill="none"/>
<rect x="242.60" y="241.40" width="14.20" height="4.20" rx="1" stroke="#111" stroke-width="1.2" fill="none"/>
<rect x="242.60" y="247.20" width="14.20" height="4.20" rx="1" stroke="#111" stroke-width="1.2" fill="none"/>
<rect x="242.60" y="253.00" width="14.20" height="4.20" rx="1" stroke="#111" stroke-width="1.2" fill="none"/>
<rect x="242.60" y="258.80" width="14.20" height="4.20" rx="1" stroke="#111" stroke-width="1.2" fill="none"/>
<rect x="242.60" y="264.60" width="14.20" height="4.20" rx="1" stroke="#111" stroke-width="1.2" fill="none"/>
<rect x="212.20" y="303.40" width="24.50" height="11.50" rx="0" stroke="#333" stroke-width="1.0" fill="none"/>
<rect x="213.10" y="304.30" width="22.70" height="9.70" rx="0" stroke="#555" stroke-width="0.6" fill="none"/>
<rect x="213.90" y="305.30" width="7.50" height="7.60" rx="0" stroke="#111" stroke-width="1.2" fill="none"/>
<rect x="227.40" y="305.30" width="7.50" height="7.60" rx="0" stroke="#111" stroke-width="1.2" fill="none"/>
<path d="M227.4,305.79999999999995 L224.0,309.09999999999997 L227.4,312.4" stroke="#333" stroke-width="0.7" fill="none" />
<rect x="212.20" y="330.10" width="24.50" height="11.50" rx="0" stroke="#333" stroke-width="1.0" fill="none"/>
<rect x="213.10" y="331.00" width="22.70" height="9.70" rx="0" stroke="#555" stroke-width="0.6" fill="none"/>
<rect x="213.90" y="332.00" width="7.50" height="7.60" rx="0" stroke="#111" stroke-width="1.2" fill="none"/>
<rect x="227.40" y="332.00" width="7.50" height="7.60" rx="0" stroke="#111" stroke-width="1.2" fill="none"/>
<path d="M227.4,332.5 L224.0,335.8 L227.4,339.1" stroke="#333" stroke-width="0.7" fill="none" />
<rect x="212.20" y="351.20" width="25.00" height="7.40" rx="0" stroke="#111" stroke-width="1.4" fill="none"/>
<line x1="237.20" y1="352.80" x2="304.50" y2="352.80" stroke="#222" stroke-width="0.9" />
<path d="M212.2,352.6 C208.5,352.2 207.0,354.5 207.4,357.5 C207.6,360 209.5,361.3 212.0,361.2" stroke="#444" stroke-width="0.85" fill="none" />
<rect x="214.50" y="361.40" width="10.10" height="6.10" rx="0" stroke="#111" stroke-width="1.4" fill="none"/>
<rect x="214.50" y="371.12" width="10.10" height="6.10" rx="0" stroke="#111" stroke-width="1.4" fill="none"/>
<rect x="214.50" y="380.84" width="10.10" height="6.10" rx="0" stroke="#111" stroke-width="1.4" fill="none"/>
<rect x="214.50" y="390.56" width="10.10" height="6.10" rx="0" stroke="#111" stroke-width="1.4" fill="none"/>
<rect x="214.50" y="400.28" width="10.10" height="6.10" rx="0" stroke="#111" stroke-width="1.4" fill="none"/>
<rect x="214.50" y="410.00" width="10.10" height="6.10" rx="0" stroke="#111" stroke-width="1.4" fill="none"/>
<rect x="214.50" y="419.72" width="10.10" height="6.10" rx="0" stroke="#111" stroke-width="1.4" fill="none"/>
<rect x="214.50" y="429.44" width="10.10" height="6.10" rx="0" stroke="#111" stroke-width="1.4" fill="none"/>
<path d="M227.7,435.1 L227.7,439.2 L216.2,443.2 L208.8,443.2 L207.4,444.6 L207.4,463.5 L212.2,463.5" stroke="#444" stroke-width="0.85" fill="none" />
<rect x="212.20" y="460.80" width="16.60" height="9.50" rx="0" stroke="#111" stroke-width="1.35" fill="none"/>
<line x1="228.80" y1="470.20" x2="304.50" y2="470.20" stroke="#222" stroke-width="0.9" />
<path d="M238.5,463 L238.5,456.5 Q238.5,454.6 240.5,454.6 L263.5,454.6 Q265.5,454.6 265.5,456.5 L265.5,463 Q264,463.6 262.8,462.6 L262.8,458.6 L241.2,458.6 L241.2,462.6 Q240,463.6 238.5,463 Z" stroke="#444" stroke-width="0.85" fill="none" />
<rect x="304.50" y="351.50" width="29.00" height="6.10" rx="0" stroke="#111" stroke-width="1.1" fill="none"/>
<defs><linearGradient id="gg" x1="0" y1="0" x2="0" y2="1"><stop offset="0" stop-color="#eee"/><stop offset="1" stop-color="#777"/></linearGradient></defs>
<rect x="304.50" y="465.50" width="29.00" height="5.90" rx="0" stroke="#111" stroke-width="1.1" fill="url(#gg)"/>
<rect x="412.00" y="227.20" width="188.20" height="140.60" rx="0" stroke="#111" stroke-width="1.0" fill="none"/>
<line x1="407.00" y1="297.70" x2="417.00" y2="297.70" stroke="#111" stroke-width="0.9" />
<circle cx="425.70" cy="258.50" r="5.80" stroke="#111" stroke-width="1.5" fill="none"/>
<circle cx="425.70" cy="258.50" r="4.00" stroke="#111" stroke-width="1.3" fill="none"/>
<circle cx="448.00" cy="269.60" r="5.80" stroke="#111" stroke-width="1.5" fill="none"/>
<circle cx="448.00" cy="269.60" r="4.00" stroke="#111" stroke-width="1.3" fill="none"/>
<circle cx="425.70" cy="280.80" r="5.80" stroke="#111" stroke-width="1.5" fill="none"/>
<circle cx="425.70" cy="280.80" r="4.00" stroke="#111" stroke-width="1.3" fill="none"/>
<circle cx="448.00" cy="291.90" r="5.80" stroke="#111" stroke-width="1.5" fill="none"/>
<circle cx="448.00" cy="291.90" r="4.00" stroke="#111" stroke-width="1.3" fill="none"/>
<circle cx="425.70" cy="303.10" r="5.80" stroke="#111" stroke-width="1.5" fill="none"/>
<circle cx="425.70" cy="303.10" r="4.00" stroke="#111" stroke-width="1.3" fill="none"/>
<circle cx="448.00" cy="314.20" r="5.80" stroke="#111" stroke-width="1.5" fill="none"/>
<circle cx="448.00" cy="314.20" r="4.00" stroke="#111" stroke-width="1.3" fill="none"/>
<circle cx="425.70" cy="325.40" r="5.80" stroke="#111" stroke-width="1.5" fill="none"/>
<circle cx="425.70" cy="325.40" r="4.00" stroke="#111" stroke-width="1.3" fill="none"/>
<rect x="441.80" y="330.30" width="12.40" height="12.40" rx="0" stroke="#111" stroke-width="1.4" fill="none"/>
<circle cx="448.00" cy="336.50" r="3.70" stroke="#111" stroke-width="1.3" fill="none"/>
<circle cx="504.30" cy="247.10" r="15.60" stroke="#111" stroke-width="1.25" fill="none"/>
<circle cx="504.30" cy="347.10" r="15.60" stroke="#111" stroke-width="1.25" fill="none"/>
<circle cx="477.10" cy="229.10" r="13.20" stroke="#111" stroke-width="1.3" fill="none"/>
<circle cx="477.10" cy="229.10" r="9.60" stroke="#111" stroke-width="1.3" fill="none"/>
<circle cx="477.10" cy="365.70" r="13.20" stroke="#111" stroke-width="1.3" fill="none"/>
<circle cx="477.10" cy="365.70" r="9.60" stroke="#111" stroke-width="1.3" fill="none"/>
<circle cx="547.00" cy="239.10" r="5.80" stroke="#111" stroke-width="1.5" fill="none"/>
<circle cx="547.00" cy="239.10" r="4.00" stroke="#111" stroke-width="1.3" fill="none"/>
<circle cx="547.00" cy="261.40" r="5.80" stroke="#111" stroke-width="1.5" fill="none"/>
<circle cx="547.00" cy="261.40" r="4.00" stroke="#111" stroke-width="1.3" fill="none"/>
<circle cx="547.00" cy="333.50" r="5.80" stroke="#111" stroke-width="1.5" fill="none"/>
<circle cx="547.00" cy="333.50" r="4.00" stroke="#111" stroke-width="1.3" fill="none"/>
<circle cx="547.00" cy="355.80" r="5.80" stroke="#111" stroke-width="1.5" fill="none"/>
<circle cx="547.00" cy="355.80" r="4.00" stroke="#111" stroke-width="1.3" fill="none"/>
<path d="M553.5,239.1 L561.7,239.1 L561.7,261.4 L553.5,261.4" stroke="#222" stroke-width="0.95" fill="none" />
<path d="M553.5,333.5 L561.7,333.5 L561.7,355.8 L553.5,355.8" stroke="#222" stroke-width="0.95" fill="none" />
<path d="M556.9,247.7 L566.8,247.7 L561.7,252.8 Z M555.3,252.8 L567.4,252.8" stroke="#222" stroke-width="0.95" fill="none" />
<path d="M556.9,347.2 L566.8,347.2 L561.7,341.3 Z M555.3,341.3 L567.4,341.3" stroke="#222" stroke-width="0.95" fill="none" />
<path d="M572.3,247.7 L588.1,247.7 L582.7,242.29999999999998 M572.3,252.8 L588.1,252.8 L582.7,258.8" stroke="#222" stroke-width="0.95" fill="none" />
<path d="M572.3,341.5 L588.1,341.5 L582.7,336.1 M572.3,347.2 L588.1,347.2 L582.7,353.2" stroke="#222" stroke-width="0.95" fill="none" />
<path d="M396.60,327.00 L396.60,341.40 L407.80,334.20 Z" stroke="#333" stroke-width="1.0" fill="none" stroke-linejoin="miter"/>
<path d="M398.80,331.20 L398.80,337.20 L403.80,334.20 Z" stroke="#333" stroke-width="1.0" fill="none" stroke-linejoin="miter"/>
<rect x="468.80" y="392.40" width="123.40" height="50.20" rx="0" stroke="#111" stroke-width="1.0" fill="none"/>
<circle cx="477.30" cy="398.60" r="4.15" stroke="#111" stroke-width="2.6" fill="none"/>
<circle cx="477.30" cy="410.77" r="4.15" stroke="#111" stroke-width="2.6" fill="none"/>
<circle cx="477.30" cy="422.94" r="4.15" stroke="#111" stroke-width="2.6" fill="none"/>
<circle cx="477.30" cy="435.11" r="4.15" stroke="#111" stroke-width="2.6" fill="none"/>
<rect x="484.30" y="380.00" width="22.20" height="19.20" rx="9.6" stroke="#111" stroke-width="1.35" fill="none"/>
<rect x="487.70" y="383.40" width="15.40" height="12.40" rx="6.2" stroke="#111" stroke-width="1.35" fill="none"/>
<rect x="484.30" y="435.00" width="22.20" height="19.20" rx="9.6" stroke="#111" stroke-width="1.35" fill="none"/>
<rect x="487.70" y="438.40" width="15.40" height="12.40" rx="6.2" stroke="#111" stroke-width="1.35" fill="none"/>
<rect x="537.30" y="402.50" width="15.20" height="29.40" rx="7.6" stroke="#111" stroke-width="1.25" fill="none"/>
<rect x="540.60" y="405.90" width="8.60" height="22.60" rx="4.3" stroke="#111" stroke-width="1.25" fill="none"/>
<rect x="467.10" y="456.00" width="88.80" height="21.80" rx="0" stroke="#222" stroke-width="0.95" fill="none"/>
<circle cx="478.20" cy="467.00" r="10.90" stroke="#222" stroke-width="0.9" fill="none"/>
<rect x="471.60" y="460.40" width="13.20" height="13.20" rx="0" stroke="#111" stroke-width="1.5" fill="none"/>
<circle cx="478.20" cy="467.00" r="3.90" stroke="#111" stroke-width="1.3" fill="none"/>
<circle cx="500.90" cy="467.00" r="6.30" stroke="#111" stroke-width="1.6" fill="none"/>
<circle cx="500.90" cy="467.00" r="3.80" stroke="#111" stroke-width="1.2" fill="none"/>
<circle cx="523.10" cy="467.00" r="6.30" stroke="#111" stroke-width="1.6" fill="none"/>
<circle cx="523.10" cy="467.00" r="3.80" stroke="#111" stroke-width="1.2" fill="none"/>
<circle cx="545.30" cy="467.00" r="6.30" stroke="#111" stroke-width="1.6" fill="none"/>
<circle cx="545.30" cy="467.00" r="3.80" stroke="#111" stroke-width="1.2" fill="none"/>
<text x="467.6" y="490.9" font-size="12.4" textLength="53.8" lengthAdjust="spacingAndGlyphs" class="mono2">DBG_UART</text>
<line x1="299.00" y1="389.80" x2="412.50" y2="389.80" stroke="#222" stroke-width="0.95" />
<line x1="299.00" y1="395.70" x2="412.50" y2="395.70" stroke="#222" stroke-width="0.95" />
<line x1="299.00" y1="462.70" x2="412.50" y2="462.70" stroke="#222" stroke-width="0.95" />
<line x1="299.00" y1="468.90" x2="412.50" y2="468.90" stroke="#222" stroke-width="0.95" />
<line x1="412.50" y1="389.80" x2="412.50" y2="468.90" stroke="#222" stroke-width="0.95" />
<line x1="295.40" y1="388.00" x2="295.40" y2="470.20" stroke="#222" stroke-width="0.95" />
<line x1="299.00" y1="388.00" x2="299.00" y2="470.20" stroke="#222" stroke-width="0.95" />
<line x1="332.60" y1="359.30" x2="332.60" y2="465.50" stroke="#222" stroke-width="0.95" />
<circle cx="301.10" cy="401.50" r="1.50" stroke="#000" stroke-width="1.1" fill="none"/>
<circle cx="308.18" cy="401.50" r="1.50" stroke="#000" stroke-width="1.1" fill="none"/>
<circle cx="315.25" cy="401.50" r="1.50" stroke="#000" stroke-width="1.1" fill="none"/>
<circle cx="322.33" cy="401.50" r="1.50" stroke="#000" stroke-width="1.1" fill="none"/>
<circle cx="329.40" cy="401.50" r="1.50" stroke="#000" stroke-width="1.1" fill="none"/>
<circle cx="336.48" cy="401.50" r="1.50" stroke="#000" stroke-width="1.1" fill="none"/>
<circle cx="343.55" cy="401.50" r="1.50" stroke="#000" stroke-width="1.1" fill="none"/>
<circle cx="350.62" cy="401.50" r="1.50" stroke="#000" stroke-width="1.1" fill="none"/>
<circle cx="357.70" cy="401.50" r="1.50" stroke="#000" stroke-width="1.1" fill="none"/>
<circle cx="364.78" cy="401.50" r="1.50" stroke="#000" stroke-width="1.1" fill="none"/>
<circle cx="371.85" cy="401.50" r="1.50" stroke="#000" stroke-width="1.1" fill="none"/>
<circle cx="378.93" cy="401.50" r="1.50" stroke="#000" stroke-width="1.1" fill="none"/>
<circle cx="386.00" cy="401.50" r="1.50" stroke="#000" stroke-width="1.1" fill="none"/>
<circle cx="393.08" cy="401.50" r="1.50" stroke="#000" stroke-width="1.1" fill="none"/>
<circle cx="400.15" cy="401.50" r="1.50" stroke="#000" stroke-width="1.1" fill="none"/>
<circle cx="407.23" cy="401.50" r="1.50" stroke="#000" stroke-width="1.1" fill="none"/>
<circle cx="301.10" cy="408.60" r="1.50" stroke="#000" stroke-width="1.1" fill="none"/>
<circle cx="308.18" cy="408.60" r="1.50" stroke="#000" stroke-width="1.1" fill="none"/>
<circle cx="315.25" cy="408.60" r="1.50" stroke="#000" stroke-width="1.1" fill="none"/>
<circle cx="322.33" cy="408.60" r="1.50" stroke="#000" stroke-width="1.1" fill="none"/>
<circle cx="329.40" cy="408.60" r="1.50" stroke="#000" stroke-width="1.1" fill="none"/>
<circle cx="336.48" cy="408.60" r="1.50" stroke="#000" stroke-width="1.1" fill="none"/>
<circle cx="343.55" cy="408.60" r="1.50" stroke="#000" stroke-width="1.1" fill="none"/>
<circle cx="350.62" cy="408.60" r="1.50" stroke="#000" stroke-width="1.1" fill="none"/>
<circle cx="357.70" cy="408.60" r="1.50" stroke="#000" stroke-width="1.1" fill="none"/>
<circle cx="364.78" cy="408.60" r="1.50" stroke="#000" stroke-width="1.1" fill="none"/>
<circle cx="371.85" cy="408.60" r="1.50" stroke="#000" stroke-width="1.1" fill="none"/>
<circle cx="378.93" cy="408.60" r="1.50" stroke="#000" stroke-width="1.1" fill="none"/>
<circle cx="386.00" cy="408.60" r="1.50" stroke="#000" stroke-width="1.1" fill="none"/>
<circle cx="393.08" cy="408.60" r="1.50" stroke="#000" stroke-width="1.1" fill="none"/>
<circle cx="400.15" cy="408.60" r="1.50" stroke="#000" stroke-width="1.1" fill="none"/>
<circle cx="407.23" cy="408.60" r="1.50" stroke="#000" stroke-width="1.1" fill="none"/>
<circle cx="301.10" cy="415.70" r="1.50" stroke="#000" stroke-width="1.1" fill="none"/>
<circle cx="308.18" cy="415.70" r="1.50" stroke="#000" stroke-width="1.1" fill="none"/>
<circle cx="315.25" cy="415.70" r="1.50" stroke="#000" stroke-width="1.1" fill="none"/>
<circle cx="322.33" cy="415.70" r="1.50" stroke="#000" stroke-width="1.1" fill="none"/>
<circle cx="329.40" cy="415.70" r="1.50" stroke="#000" stroke-width="1.1" fill="none"/>
<circle cx="336.48" cy="415.70" r="1.50" stroke="#000" stroke-width="1.1" fill="none"/>
<circle cx="343.55" cy="415.70" r="1.50" stroke="#000" stroke-width="1.1" fill="none"/>
<circle cx="350.62" cy="415.70" r="1.50" stroke="#000" stroke-width="1.1" fill="none"/>
<circle cx="357.70" cy="415.70" r="1.50" stroke="#000" stroke-width="1.1" fill="none"/>
<circle cx="364.78" cy="415.70" r="1.50" stroke="#000" stroke-width="1.1" fill="none"/>
<circle cx="371.85" cy="415.70" r="1.50" stroke="#000" stroke-width="1.1" fill="none"/>
<circle cx="378.93" cy="415.70" r="1.50" stroke="#000" stroke-width="1.1" fill="none"/>
<circle cx="386.00" cy="415.70" r="1.50" stroke="#000" stroke-width="1.1" fill="none"/>
<circle cx="393.08" cy="415.70" r="1.50" stroke="#000" stroke-width="1.1" fill="none"/>
<circle cx="400.15" cy="415.70" r="1.50" stroke="#000" stroke-width="1.1" fill="none"/>
<circle cx="407.23" cy="415.70" r="1.50" stroke="#000" stroke-width="1.1" fill="none"/>
<circle cx="301.10" cy="443.90" r="1.50" stroke="#000" stroke-width="1.1" fill="none"/>
<circle cx="308.18" cy="443.90" r="1.50" stroke="#000" stroke-width="1.1" fill="none"/>
<circle cx="315.25" cy="443.90" r="1.50" stroke="#000" stroke-width="1.1" fill="none"/>
<circle cx="322.33" cy="443.90" r="1.50" stroke="#000" stroke-width="1.1" fill="none"/>
<circle cx="329.40" cy="443.90" r="1.50" stroke="#000" stroke-width="1.1" fill="none"/>
<circle cx="336.48" cy="443.90" r="1.50" stroke="#000" stroke-width="1.1" fill="none"/>
<circle cx="343.55" cy="443.90" r="1.50" stroke="#000" stroke-width="1.1" fill="none"/>
<circle cx="350.62" cy="443.90" r="1.50" stroke="#000" stroke-width="1.1" fill="none"/>
<circle cx="357.70" cy="443.90" r="1.50" stroke="#000" stroke-width="1.1" fill="none"/>
<circle cx="364.78" cy="443.90" r="1.50" stroke="#000" stroke-width="1.1" fill="none"/>
<circle cx="371.85" cy="443.90" r="1.50" stroke="#000" stroke-width="1.1" fill="none"/>
<circle cx="378.93" cy="443.90" r="1.50" stroke="#000" stroke-width="1.1" fill="none"/>
<circle cx="386.00" cy="443.90" r="1.50" stroke="#000" stroke-width="1.1" fill="none"/>
<circle cx="393.08" cy="443.90" r="1.50" stroke="#000" stroke-width="1.1" fill="none"/>
<circle cx="400.15" cy="443.90" r="1.50" stroke="#000" stroke-width="1.1" fill="none"/>
<circle cx="407.23" cy="443.90" r="1.50" stroke="#000" stroke-width="1.1" fill="none"/>
<circle cx="301.10" cy="451.00" r="1.50" stroke="#000" stroke-width="1.1" fill="none"/>
<circle cx="308.18" cy="451.00" r="1.50" stroke="#000" stroke-width="1.1" fill="none"/>
<circle cx="315.25" cy="451.00" r="1.50" stroke="#000" stroke-width="1.1" fill="none"/>
<circle cx="322.33" cy="451.00" r="1.50" stroke="#000" stroke-width="1.1" fill="none"/>
<circle cx="329.40" cy="451.00" r="1.50" stroke="#000" stroke-width="1.1" fill="none"/>
<circle cx="336.48" cy="451.00" r="1.50" stroke="#000" stroke-width="1.1" fill="none"/>
<circle cx="343.55" cy="451.00" r="1.50" stroke="#000" stroke-width="1.1" fill="none"/>
<circle cx="350.62" cy="451.00" r="1.50" stroke="#000" stroke-width="1.1" fill="none"/>
<circle cx="357.70" cy="451.00" r="1.50" stroke="#000" stroke-width="1.1" fill="none"/>
<circle cx="364.78" cy="451.00" r="1.50" stroke="#000" stroke-width="1.1" fill="none"/>
<circle cx="371.85" cy="451.00" r="1.50" stroke="#000" stroke-width="1.1" fill="none"/>
<circle cx="378.93" cy="451.00" r="1.50" stroke="#000" stroke-width="1.1" fill="none"/>
<circle cx="386.00" cy="451.00" r="1.50" stroke="#000" stroke-width="1.1" fill="none"/>
<circle cx="393.08" cy="451.00" r="1.50" stroke="#000" stroke-width="1.1" fill="none"/>
<circle cx="400.15" cy="451.00" r="1.50" stroke="#000" stroke-width="1.1" fill="none"/>
<circle cx="407.23" cy="451.00" r="1.50" stroke="#000" stroke-width="1.1" fill="none"/>
<circle cx="301.10" cy="458.10" r="1.50" stroke="#000" stroke-width="1.1" fill="none"/>
<circle cx="308.18" cy="458.10" r="1.50" stroke="#000" stroke-width="1.1" fill="none"/>
<circle cx="315.25" cy="458.10" r="1.50" stroke="#000" stroke-width="1.1" fill="none"/>
<circle cx="322.33" cy="458.10" r="1.50" stroke="#000" stroke-width="1.1" fill="none"/>
<circle cx="329.40" cy="458.10" r="1.50" stroke="#000" stroke-width="1.1" fill="none"/>
<circle cx="336.48" cy="458.10" r="1.50" stroke="#000" stroke-width="1.1" fill="none"/>
<circle cx="343.55" cy="458.10" r="1.50" stroke="#000" stroke-width="1.1" fill="none"/>
<circle cx="350.62" cy="458.10" r="1.50" stroke="#000" stroke-width="1.1" fill="none"/>
<circle cx="357.70" cy="458.10" r="1.50" stroke="#000" stroke-width="1.1" fill="none"/>
<circle cx="364.78" cy="458.10" r="1.50" stroke="#000" stroke-width="1.1" fill="none"/>
<circle cx="371.85" cy="458.10" r="1.50" stroke="#000" stroke-width="1.1" fill="none"/>
<circle cx="378.93" cy="458.10" r="1.50" stroke="#000" stroke-width="1.1" fill="none"/>
<circle cx="386.00" cy="458.10" r="1.50" stroke="#000" stroke-width="1.1" fill="none"/>
<circle cx="393.08" cy="458.10" r="1.50" stroke="#000" stroke-width="1.1" fill="none"/>
<circle cx="400.15" cy="458.10" r="1.50" stroke="#000" stroke-width="1.1" fill="none"/>
<circle cx="407.23" cy="458.10" r="1.50" stroke="#000" stroke-width="1.1" fill="none"/>
<rect x="284.60" y="360.80" width="15.40" height="6.60" rx="3.3" stroke="#444" stroke-width="0.85" fill="none"/>
<rect x="284.60" y="370.90" width="15.40" height="6.60" rx="3.3" stroke="#444" stroke-width="0.85" fill="none"/>
<rect x="282.80" y="380.60" width="14.90" height="6.60" rx="3.3" stroke="#444" stroke-width="0.85" fill="none"/>
<rect x="285.50" y="390.20" width="14.50" height="6.60" rx="3.3" stroke="#444" stroke-width="0.85" fill="none"/>
<rect x="282.80" y="400.20" width="14.90" height="6.60" rx="3.3" stroke="#444" stroke-width="0.85" fill="none"/>
<rect x="284.60" y="409.20" width="14.40" height="6.60" rx="3.3" stroke="#444" stroke-width="0.85" fill="none"/>
<rect x="287.60" y="419.30" width="14.20" height="6.60" rx="3.3" stroke="#444" stroke-width="0.85" fill="none"/>
<path d="M305.0,362.3 L316,360.3 L325.8,360.3 Q327.8,360.3 327.8,362.3 L327.8,378.6 Q327.8,380.3 326,380.3 L305.2,380.3 L303.6,378.8 L303.6,363.8 Z" stroke="#222" stroke-width="0.95" fill="none" />
<path d="M315.3,406.5 L326.8,406.5 M316.6,407.4 L320.7,425 L332.6,425" stroke="#444" stroke-width="0.85" fill="none" />
<rect x="326.10" y="405.70" width="7.10" height="9.20" rx="1.2" stroke="#222" stroke-width="1.2" fill="none"/>
<path d="M305.4,443.2 L305.4,434 L320.7,434 L320.7,443.2" stroke="#444" stroke-width="0.85" fill="none" />
<rect x="324.50" y="439.50" width="8.70" height="12.50" rx="0" stroke="#444" stroke-width="0.85" fill="none"/>
<rect x="324.50" y="444.60" width="8.70" height="7.40" rx="0" stroke="#222" stroke-width="1.2" fill="none"/>
<path d="M278.80,431.80 L287.60,427.70 L299.00,427.70 L299.00,443.20 L278.80,443.20 Z" stroke="#444" stroke-width="0.85" fill="none" stroke-linejoin="miter"/>
<path d="M279.5,466.2 L276.1,462.2 L276.1,450.7 L278.8,447.6 L291.6,447.6 L295,450.7 L299,450.7" stroke="#444" stroke-width="0.85" fill="none" />
<path d="M288.2,466.2 L281.5,460.1 L281.5,452.7 L287.6,452.7 L287.6,459.5 L299,459.5" stroke="#444" stroke-width="0.85" fill="none" />
<rect x="291.60" y="386.00" width="8.80" height="12.80" rx="0" stroke="#111" stroke-width="1.2" fill="#999"/>
<rect x="294.40" y="390.60" width="4.60" height="7.40" rx="0" stroke="#222" stroke-width="0.9" fill="#bbb"/>
<text x="372.2" y="415.6" font-size="11.6" textLength="56.5" lengthAdjust="spacingAndGlyphs" class="mono">DBG_UART</text>
<text x="372.2" y="426.2" font-size="9.3" textLength="53" lengthAdjust="spacingAndGlyphs" class="mono">GND 5V TX RX</text>
<text transform="translate(429.3,397.5) rotate(-90)" font-size="10.6" textLength="24.2" lengthAdjust="spacingAndGlyphs" class="mono">1606</text>
<text transform="translate(441.8,461.2) rotate(-90)" font-size="14.2" textLength="88.4" lengthAdjust="spacingAndGlyphs" class="brand">FRIENDLYARM</text>
<text transform="translate(452.2,448.6) rotate(-90)" font-size="10.6" textLength="69" lengthAdjust="spacingAndGlyphs" class="mono">NanoPi NEO</text>
<defs><pattern id="hx" x="239.5" y="488.8" width="2" height="2.15" patternUnits="userSpaceOnUse"><rect width="2" height="2.15" fill="#f4f4f4"/><path d="M0,0 H2 M0,0 V2.15" stroke="#777" stroke-width="0.7"/></pattern></defs>
<rect x="239.50" y="488.80" width="6.00" height="11.70" rx="0" stroke="#111" stroke-width="1.1" fill="url(#hx)"/>
<rect x="239.50" y="500.50" width="6.00" height="21.70" rx="0" stroke="#111" stroke-width="1.1" fill="url(#hx)"/>
</svg>
</body></html>
